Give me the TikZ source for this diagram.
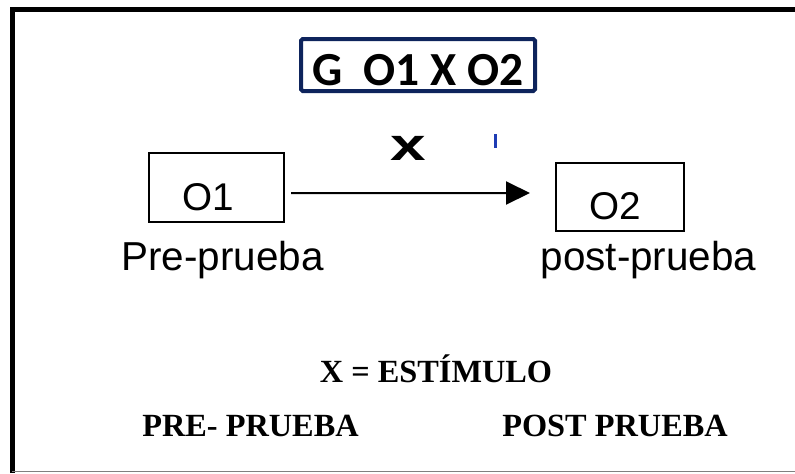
\documentclass[tikz,border=0pt]{standalone}
\usepackage{fontspec}
\setmainfont{Liberation Sans}
\newfontfamily\cuerpo{Carlito}
\newfontfamily\romana{Liberation Serif}
\usepackage{xcolor}
\usetikzlibrary{arrows.meta}
\definecolor{marino}{RGB}{14,36,92}
\definecolor{azulito}{RGB}{30,60,180}

\begin{document}
\begin{tikzpicture}[
            obox/.style={shape=rectangle, draw, line width=0.04cm, inner xsep=0.66cm, inner ysep=0pt, text height=1.14cm, text depth=0.23cm, align=left, font=\fontsize{22}{22}\selectfont},
            etiq/.style={font=\fontsize{23}{23}\selectfont, anchor=base, inner sep=0pt},
            negrita/.style={font=\romana\bfseries\fontsize{18.4}{18.4}\selectfont, anchor=base, inner sep=0pt}]
				\useasboundingbox (0,0) rectangle (15.9,-9.46);
				\draw[line width=0.1cm] (0.24,-9.46) -- (0.24,-0.18) -- (15.9,-0.18);
				\draw[gray, line width=0.03cm] (0.24,-9.43) -- (15.9,-9.43);

				\node[draw=marino, line width=0.08cm, rounded corners=1pt, inner sep=0pt, minimum width=4.68cm, text height=0.92cm, text depth=0.12cm, font=\cuerpo\bfseries\fontsize{27}{27}\selectfont] (titulo) at (8.36,-1.30) {G\ \ O1 X O2};

				\node[obox, text width=1.38cm] (o1) at (4.33,-3.75) {O1};
				\node[obox, text width=1.24cm] (o2) at (12.40,-3.94) {O2};
				\draw[line width=0.04cm, -{Triangle[length=0.48cm, width=0.46cm]}] ([shift={(0.12,-0.11)}]o1.east) -- ([shift={(-0.5,0.08)}]o2.west);

				\node[font=\bfseries\fontsize{26}{26}\selectfont, anchor=base, inner sep=0pt] (equis) at (8.17,-3.20) {\scalebox{1.4}[1]{x}};
				\draw[azulito, line width=0.06cm] (9.90,-2.68) -- (9.90,-2.96);

				\node[etiq] (pre) at (4.45,-5.40) {Pre-prueba};
				\node[etiq] (post) at (12.97,-5.40) {post-prueba};

				\node[negrita] (estimulo) at (8.72,-7.64) {X = ESTÍMULO};
				\node[negrita] (prepb) at (5.01,-8.72) {PRE- PRUEBA};
				\node[negrita] (postpb) at (12.30,-8.72) {POST PRUEBA};
 		\end{tikzpicture}
\end{document}
